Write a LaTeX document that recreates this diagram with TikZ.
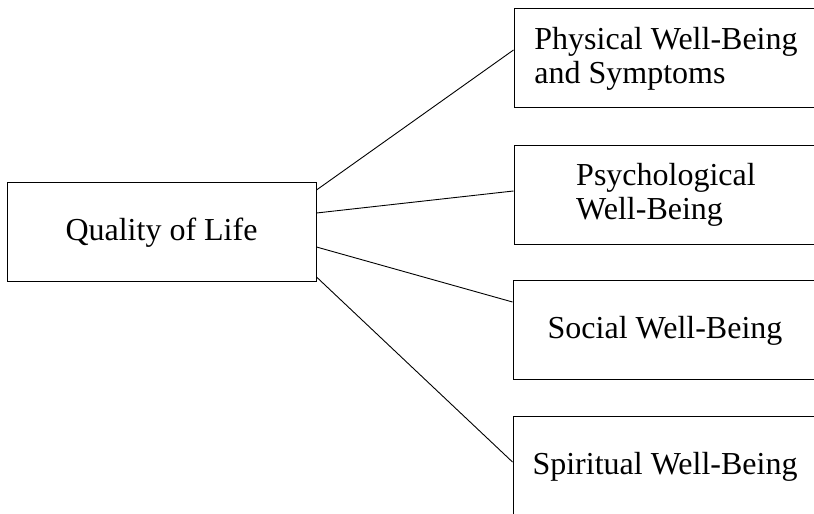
\documentclass[tikz,border=0pt]{standalone}
\usepackage{fontspec}
\setmainfont{Liberation Serif}
\begin{document}
\begin{tikzpicture}[x=1pt,y=1pt,
  box/.style={draw=black,line width=1pt,minimum width=304pt,minimum height=99pt,inner sep=0pt,align=left,font=\fontsize{32}{34}\selectfont},
  qbox/.style={draw=black,line width=1pt,minimum width=309pt,minimum height=99pt,inner sep=0pt,font=\fontsize{32}{34}\selectfont},
  link/.style={draw=black,line width=0.9pt}]
\clip (0,0) rectangle (814,514);
\fill[white] (0,0) rectangle (814,514);
\node[qbox] (q) at (161.5,281.5) {Quality of Life};
\node[box] (b1) at (666,455.5) {Physical Well-Being\\and Symptoms};
\node[box] (b2) at (666,319) {Psychological\\Well-Being};
\node[box] (b3) at (665,183.5) {Social Well-Being};
\node[box,minimum height=100pt] (b4) at (665,47) {Spiritual Well-Being};
\draw[link] ([yshift=42.5pt]q.east) -- ([yshift=8.5pt]b1.west);
\draw[link] ([yshift=19.5pt]q.east) -- ([yshift=4pt]b2.west);
\draw[link] ([yshift=-14.5pt]q.east) -- ([yshift=28.5pt]b3.west);
\draw[link] ([yshift=-44.5pt]q.east) -- ([yshift=5pt]b4.west);
\end{tikzpicture}
\end{document}
